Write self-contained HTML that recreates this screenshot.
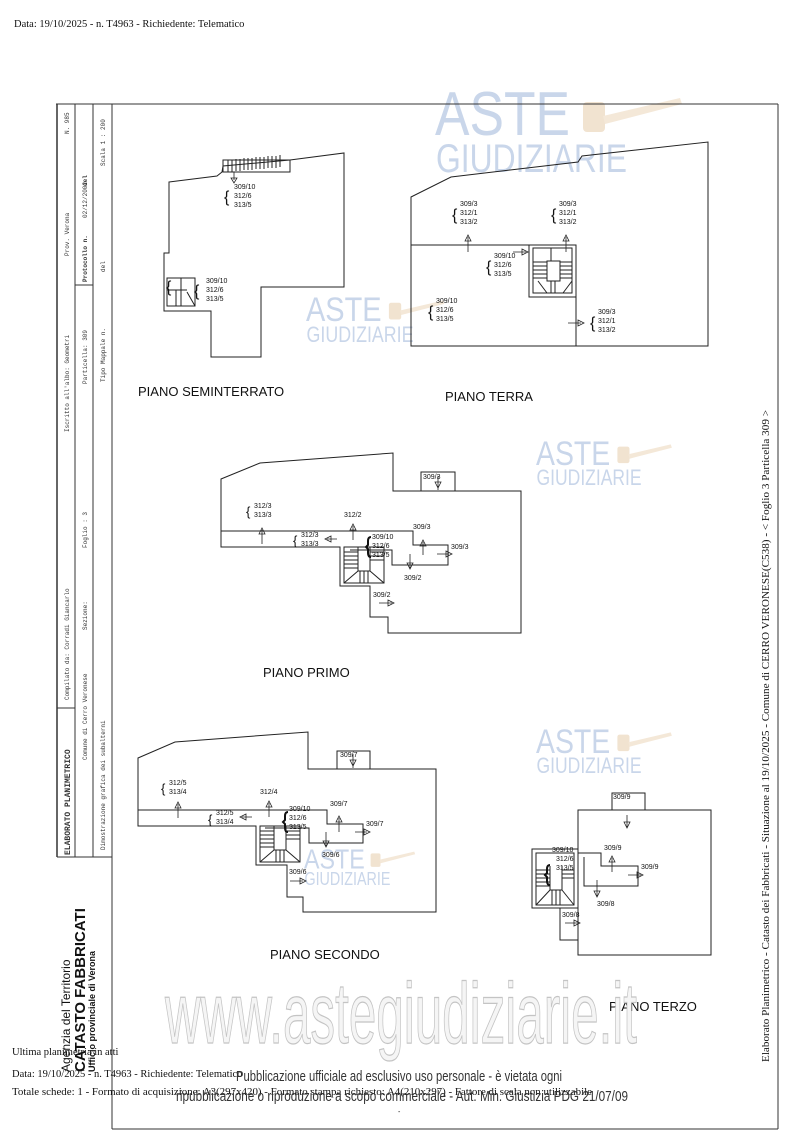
<!DOCTYPE html>
<html><head><meta charset="utf-8"><style>
html,body{margin:0;padding:0;background:#fff;}
svg{display:block;}
.t{font-family:"Liberation Sans",sans-serif;font-size:7px;fill:#111;}
.m{font-family:"Liberation Mono",monospace;font-size:6px;fill:#333;}
.h{font-family:"Liberation Sans",sans-serif;font-size:13px;fill:#111;}
.s{font-family:"Liberation Serif",serif;font-size:10.5px;fill:#111;}
</style></head><body>
<svg width="800" height="1131" viewBox="0 0 800 1131" xmlns="http://www.w3.org/2000/svg">
<defs>
<g id="wm">
 <text x="0" y="45" font-family="Liberation Sans,sans-serif" font-size="62" fill="#c9d6ea" textLength="135" lengthAdjust="spacingAndGlyphs">ASTE</text>
 <text x="1" y="82" font-family="Liberation Sans,sans-serif" font-size="40" fill="#c9d6ea" textLength="191" lengthAdjust="spacingAndGlyphs">GIUDIZIARIE</text>
 <rect x="148" y="12" width="22" height="30" rx="4" fill="#f1e3d0"/>
 <polygon points="168,26 245,8 247,14 170,34" fill="#f4e8d8"/>
</g>
</defs>
<text x="14" y="27" class="s">Data: 19/10/2025 - n. T4963 - Richiedente: Telematico</text>

<use href="#wm" transform="translate(435,90)"/>
<use href="#wm" transform="translate(306,296) scale(0.56)"/>
<use href="#wm" transform="translate(536,440) scale(0.55)"/>
<use href="#wm" transform="translate(536,728) scale(0.55)"/>
<use href="#wm" transform="translate(304,848) scale(0.45)"/>

<g stroke="#333" fill="none" stroke-width="1">
<line x1="56" y1="104" x2="778" y2="104"/>
<line x1="778" y1="104" x2="778" y2="1129"/>
<line x1="112" y1="1129" x2="778" y2="1129"/>
<line x1="112" y1="104" x2="112" y2="1129"/>
<line x1="57" y1="104" x2="57" y2="857" stroke-width="1.5"/>
<line x1="75" y1="104" x2="75" y2="857"/>
<line x1="93" y1="104" x2="93" y2="857"/>
<line x1="57" y1="857" x2="112" y2="857"/>
<line x1="57" y1="708" x2="75" y2="708"/>
<line x1="75" y1="285" x2="93" y2="285"/>
</g>
<g class="m">
<text transform="translate(70,855) rotate(-90)" font-weight="bold" font-size="8px">ELABORATO PLANIMETRICO</text>
<text transform="translate(69,700) rotate(-90)">Compilato da: Corradi Giancarlo</text>
<text transform="translate(69,432) rotate(-90)">Iscritto all'albo: Geometri</text>
<text transform="translate(69,256) rotate(-90)">Prov. Verona</text>
<text transform="translate(69,134) rotate(-90)">N.   985</text>
<text transform="translate(87,760) rotate(-90)">Comune di Cerro Veronese</text>
<text transform="translate(87,630) rotate(-90)">Sezione:</text>
<text transform="translate(87,548) rotate(-90)">Foglio : 3</text>
<text transform="translate(87,384) rotate(-90)">Particella: 309</text>
<text transform="translate(87,282) rotate(-90)" font-weight="bold">Protocollo n.</text>
<text transform="translate(87,218) rotate(-90)">02/12/2002</text>
<text transform="translate(87,186) rotate(-90)" font-weight="bold">del</text>
<text transform="translate(105,850) rotate(-90)">Dimostrazione grafica dei subalterni</text>
<text transform="translate(105,382) rotate(-90)">Tipo Mappale n.</text>
<text transform="translate(105,272) rotate(-90)">del</text>
<text transform="translate(105,166) rotate(-90)">Scala 1 : 200</text>
</g>
<g font-family="Liberation Sans,sans-serif" fill="#111">
<text transform="translate(70,1072) rotate(-90)" font-size="12">Agenzia del Territorio</text>
<text transform="translate(85,1072) rotate(-90)" font-size="15" font-weight="bold">CATASTO FABBRICATI</text>
<text transform="translate(95,1072) rotate(-90)" font-size="9" font-weight="bold">Ufficio provinciale di  Verona</text>
</g>
<text transform="translate(769,1062) rotate(-90)" class="s" font-size="9" fill="#444" textLength="652" lengthAdjust="spacingAndGlyphs">Elaborato Planimetrico - Catasto dei Fabbricati - Situazione al 19/10/2025 - Comune di CERRO VERONESE(C538) - &lt; Foglio 3 Particella 309 &gt;</text>

<g stroke="#222" fill="none" stroke-width="1">
<polygon points="169,182 217,176 222,172 223,166 290,160 344,153 344,287 261,287 261,357 211,357 211,311 164,311 164,253 169,253"/>
<rect x="223" y="160" width="67" height="12"/>
<path d="M228,160v12M232,160v12M236,159v12M240,159v12M244,158v12M248,158v12M252,158v12M256,157v12M260,157v12M264,157v12M268,156v12M272,156v12M276,156v12M280,155v12"/>
<path d="M167,278h28v28h-28zM167,290h20M181,278v28M176,290v16M187,292l8,14"/>
<polygon points="411,197 451,177 578,162 582,156 708,142 708,346 411,346"/>
<path d="M411,245h118v52h47v49"/>
<rect x="529" y="245" width="47" height="52"/>
<rect x="533" y="248" width="39" height="45"/>
<rect x="547" y="261" width="13" height="20"/>
<path d="M533,262h14M533,266h14M533,270h14M533,274h14M533,278h14M560,262h12M560,266h12M560,270h12M560,274h12M560,278h12M551,248v13M551,281v12M555,281v12M538,281l9,12M572,281l-9,12"/>
<polygon points="221,479 260,463 393,453 393,491 521,491 521,633 388,633 388,617 370,617 370,586 340,586 340,547 221,547"/>
<path d="M221,531h192v14h35v20h-56v-15h-42"/>
<rect x="421" y="472" width="34" height="19"/>
<rect x="344" y="547" width="40" height="36"/>
<path d="M344,552h14M344,556h14M344,560h14M344,564h14M344,568h14M358,547v24h12v-24M370,552h14M370,556h14M370,560h14M344,583l14,-12M384,583l-14,-12M360,571v12M364,571v12M368,571v12"/>
<polygon points="138,758 175,742 308,732 308,769 436,769 436,912 303,912 303,897 287,897 287,865 256,865 256,826 138,826"/>
<path d="M138,810h189v14h36v19h-54v-15h-44"/>
<rect x="337" y="751" width="33" height="18"/>
<rect x="260" y="826" width="40" height="36"/>
<path d="M260,831h14M260,835h14M260,839h14M260,843h14M260,847h14M274,826v24h12v-24M286,831h14M286,835h14M286,839h14M260,862l14,-12M300,862l-14,-12M276,850v12M280,850v12M284,850v12"/>
<rect x="578" y="810" width="133" height="145"/>
<rect x="612" y="793" width="33" height="17"/>
<rect x="560" y="908" width="18" height="32"/>
<path d="M532,849h46v59h-46zM536,853h38v52h-38z"/>
<path d="M578,853h23v13h37v20h-54v-29"/>
<path d="M536,870h14M536,874h14M536,878h14M536,882h14M536,886h14M550,866v24h12v-24M562,870h12M562,874h12M562,878h12M536,905l14,-15M574,905l-12,-15M552,890v15M556,890v15M560,890v15"/>
</g>
<g stroke="#111" stroke-width="2" fill="none">
<path d="M371,537q-3,0-3,4v4l-2,2l2,2v4q0,4,3,4"/>
<path d="M288,812q-3,0-3,4v4l-2,2l2,2v4q0,4,3,4"/>
<path d="M550,865q-3,0-3,4v4l-2,2l2,2v4q0,4,3,4"/>
</g>
<g stroke="#222" fill="none" stroke-width="0.8">
<path d="M234,172v8M231,178l3,5l3,-5z"/>
<path d="M468,252v-15M465,241l3,-6l3,6z"/>
<path d="M566,252v-15M563,241l3,-6l3,6z"/>
<path d="M513,252h13M522,249l6,3l-6,3z"/>
<path d="M568,323h13M578,320l6,3l-6,3z"/>
<path d="M262,544v-14M259,534l3,-6l3,6z"/>
<path d="M353,540v-14M350,530l3,-6l3,6z"/>
<path d="M337,539h-10M331,536l-6,3l6,3z"/>
<path d="M423,555v-13M420,546l3,-6l3,6z"/>
<path d="M410,554v15M407,563l3,6l3,-6z"/>
<path d="M437,554h12M446,551l6,3l-6,3z"/>
<path d="M438,490v-14M435,482l3,6l3,-6z"/>
<path d="M379,603h13M388,600l6,3l-6,3z"/>
<path d="M178,818v-14M175,808l3,-6l3,6z"/>
<path d="M269,817v-14M266,807l3,-6l3,6z"/>
<path d="M252,817h-10M246,814l-6,3l6,3z"/>
<path d="M339,832v-14M336,822l3,-6l3,6z"/>
<path d="M326,832v15M323,841l3,6l3,-6z"/>
<path d="M355,832h12M364,829l6,3l-6,3z"/>
<path d="M353,768v-14M350,760l3,6l3,-6z"/>
<path d="M290,881h13M300,878l6,3l-6,3z"/>
<path d="M627,815v12M624,822l3,6l3,-6z"/>
<path d="M612,872v-14M609,862l3,-6l3,6z"/>
<path d="M597,880v16M594,891l3,6l3,-6z"/>
<path d="M628,875h13M637,872l6,3l-6,3z"/>
<path d="M565,923h13M574,920l6,3l-6,3z"/>
</g>
<g class="t">
<text x="234" y="189">309/10</text><text x="234" y="198">312/6</text><text x="234" y="207">313/5</text>
<text x="206" y="283">309/10</text><text x="206" y="292">312/6</text><text x="206" y="301">313/5</text>
<text x="460" y="206">309/3</text><text x="460" y="215">312/1</text><text x="460" y="224">313/2</text>
<text x="559" y="206">309/3</text><text x="559" y="215">312/1</text><text x="559" y="224">313/2</text>
<text x="494" y="258">309/10</text><text x="494" y="267">312/6</text><text x="494" y="276">313/5</text>
<text x="436" y="303">309/10</text><text x="436" y="312">312/6</text><text x="436" y="321">313/5</text>
<text x="598" y="314">309/3</text><text x="598" y="323">312/1</text><text x="598" y="332">313/2</text>
<text x="254" y="508">312/3</text><text x="254" y="517">313/3</text>
<text x="344" y="517">312/2</text>
<text x="301" y="537">312/3</text><text x="301" y="546">313/3</text>
<text x="372" y="539">309/10</text><text x="372" y="548">312/6</text><text x="372" y="557">313/5</text>
<text x="413" y="529">309/3</text><text x="451" y="549">309/3</text>
<text x="404" y="580">309/2</text><text x="373" y="597">309/2</text><text x="423" y="479">309/3</text>
<text x="169" y="785">312/5</text><text x="169" y="794">313/4</text>
<text x="260" y="794">312/4</text>
<text x="216" y="815">312/5</text><text x="216" y="824">313/4</text>
<text x="289" y="811">309/10</text><text x="289" y="820">312/6</text><text x="289" y="829">313/5</text>
<text x="330" y="806">309/7</text><text x="366" y="826">309/7</text>
<text x="322" y="857">309/6</text><text x="289" y="874">309/6</text><text x="340" y="757">309/7</text>
<text x="552" y="852">309/10</text><text x="556" y="861">312/6</text><text x="556" y="870">313/5</text>
<text x="604" y="850">309/9</text><text x="641" y="869">309/9</text>
<text x="597" y="906">309/8</text><text x="562" y="917">309/8</text><text x="613" y="799">309/9</text>
<text x="166" y="292" font-size="16">{</text><text x="194" y="296" font-size="16">{</text>
<text x="224" y="202" font-size="16">{</text><text x="452" y="220" font-size="16">{</text>
<text x="551" y="220" font-size="16">{</text><text x="486" y="272" font-size="16">{</text>
<text x="428" y="317" font-size="16">{</text><text x="590" y="328" font-size="16">{</text>
<text x="246" y="516" font-size="13">{</text><text x="293" y="545" font-size="13">{</text>
<text x="161" y="793" font-size="13">{</text><text x="208" y="824" font-size="13">{</text>
</g>
<text x="138" y="396" class="h">PIANO SEMINTERRATO</text>
<text x="445" y="401" class="h">PIANO TERRA</text>
<text x="263" y="677" class="h">PIANO PRIMO</text>
<text x="270" y="959" class="h">PIANO SECONDO</text>
<text x="609" y="1011" class="h">PIANO TERZO</text>

<text x="165" y="1043" font-family="Liberation Sans Narrow,Liberation Sans,sans-serif" font-size="86" fill="#f5f5f5" stroke="#c4c4c4" stroke-width="1.2" textLength="472" lengthAdjust="spacingAndGlyphs">www.astegiudiziarie.it</text>

<text x="12" y="1055" class="s">Ultima planimetria in atti</text>
<text x="12" y="1077" class="s">Data: 19/10/2025 - n. T4963 - Richiedente: Telematico</text>
<text x="12" y="1095" class="s" font-size="10" textLength="580" lengthAdjust="spacingAndGlyphs">Totale schede: 1 - Formato di acquisizione: A3(297x420) - Formato stampa richiesto: A4(210x297) - Fattore di scala non utilizzabile</text>
<text x="236" y="1081" font-family="Liberation Sans Narrow,Liberation Sans,sans-serif" font-size="15" fill="#333" textLength="326" lengthAdjust="spacingAndGlyphs">Pubblicazione ufficiale ad esclusivo uso personale - è vietata ogni</text>
<text x="176" y="1101" font-family="Liberation Sans Narrow,Liberation Sans,sans-serif" font-size="15" fill="#333" textLength="452" lengthAdjust="spacingAndGlyphs">ripubblicazione o riproduzione a scopo commerciale - Aut. Min. Giustizia PDG 21/07/09</text>
<text x="398" y="1114" class="t">-</text>
</svg>
</body></html>
